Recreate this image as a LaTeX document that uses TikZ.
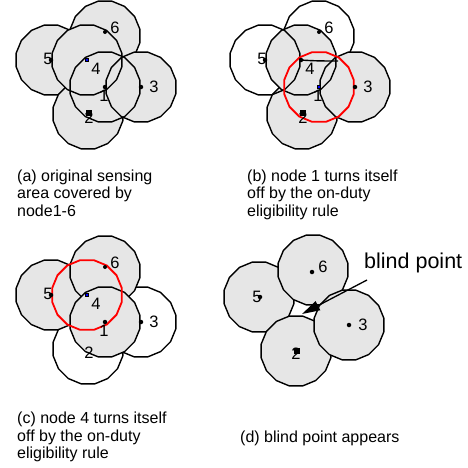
\documentclass[tikz,border=0pt]{standalone}
\usepackage{fontspec}
\setmainfont{Liberation Sans}
\usetikzlibrary{shapes.geometric,arrows.meta}
\definecolor{areagray}{HTML}{E6E6E6}
\definecolor{offred}{HTML}{FF0000}

\begin{document}
\begin{tikzpicture}[x=1pt,y=-1pt,
  area/.style={regular polygon, regular polygon sides=16, minimum size=71pt,
               inner sep=0pt, outer sep=0pt},
  covered/.style={area, fill=areagray, draw=black, line width=1.4pt},
  coverfill/.style={area, fill=areagray},
  rim/.style={area, draw=black, line width=1.4pt},
  blank/.style={area, fill=white, draw=black, line width=1.4pt},
  offrim/.style={area, draw=offred, line width=1.8pt},
  sensor/.style={circle, fill=black, inner sep=0pt, minimum size=4.5pt},
  bigsensor/.style={rectangle, fill=black, inner sep=0pt, minimum size=6pt},
  offsensor/.style={rectangle, fill=blue, draw=black, line width=0.6pt,
                    inner sep=0pt, minimum size=3.5pt},
  numlabel/.style={inner sep=0pt, font=\fontsize{16.5}{16.5}\selectfont},
  caption/.style={anchor=north west, align=left, inner sep=0pt,
                  font=\fontsize{16}{17.5}\selectfont}
]
\useasboundingbox (0,0) rectangle (468,467);

% ---------- (a) all six sensing areas ----------
\node[covered]   (a5)  at (51,60)  {};
\node[covered]   (a6)  at (105,36) {};
\node[covered]   (a2)  at (88,114) {};
\node[coverfill] (a4)  at (87,60)  {};
\node[coverfill] (a1)  at (105,87) {};
\node[coverfill] (a3)  at (141,87) {};
\node[rim]       (a4r) at (87,60)  {};
\node[rim]       (a1r) at (105,87) {};
\node[rim]       (a3r) at (141,87) {};
\node[sensor]    (s5a) at (51,60)  {};
\node[sensor, minimum size=4pt] (s6a) at (105,32) {};
\node[offsensor] (s4a) at (87,60)  {};
\node[sensor]    (s1a) at (105,87) {};
\node[sensor]    (s3a) at (141,87) {};
\node[bigsensor] (s2a) at (89,113) {};
\node[numlabel] (l5a) at (48,59)  {5};
\node[numlabel] (l4a) at (96,69)  {4};
\node[numlabel] (l1a) at (104,96) {1};
\node[numlabel] (l3a) at (154,87) {3};
\node[numlabel] (l2a) at (89,118) {2};
\node[numlabel] (l6a) at (115,28) {6};
\node[caption] (capa) at (17,169.5)
  {(a) original sensing\\area covered by\\node1-6};

% ---------- (b) node 1 switched off ----------
\begin{scope}[shift={(214,0)}]
\node[rim]       (b6)  at (105,36) {};
\node[covered]   (b2)  at (88,114) {};
\node[coverfill] (b4)  at (87,60)  {};
\node[coverfill] (b3)  at (141,87) {};
\node[rim]       (b4r) at (87,60)  {};
\node[rim]       (b3r) at (141,87) {};
\node[rim]       (b5)  at (51,60)  {};
\coordinate (b4c) at (87,60);
\coordinate (b1edge) at (124,61);
\draw[line width=1.4pt] (b4c) .. controls (100,61) and (112,61) .. (b1edge);
\node[offrim]    (b1)  at (105,87) {};
\node[sensor]    (s5b) at (51,60)  {};
\node[sensor, minimum size=4pt] (s6b) at (105,32) {};
\node[sensor]    (s4b) at (87,60)  {};
\node[offsensor] (s1b) at (105,87) {};
\node[sensor]    (s3b) at (141,87) {};
\node[bigsensor] (s2b) at (89,113) {};
\node[numlabel] (l5b) at (48,59)  {5};
\node[numlabel] (l4b) at (96,69)  {4};
\node[numlabel] (l1b) at (104,96) {1};
\node[numlabel] (l3b) at (154,87) {3};
\node[numlabel] (l2b) at (89,118) {2};
\node[numlabel] (l6b) at (115,28) {6};
\end{scope}
\node[caption] (capb) at (247,169.5)
  {(b) node 1 turns itself\\off by the on-duty\\eligibility rule};

% ---------- (c) node 4 switched off ----------
\begin{scope}[shift={(0,235)}]
\node[blank]     (c2)  at (88,114) {};
\node[blank]     (c3)  at (141,87) {};
\node[covered]   (c5)  at (51,60)  {};
\node[covered]   (c6)  at (105,36) {};
\node[covered]   (c1)  at (105,87) {};
\node[offrim]    (c4)  at (87,60)  {};
\node[sensor]    (s5c) at (51,60)  {};
\node[sensor, minimum size=4pt] (s6c) at (105,32) {};
\node[offsensor] (s4c) at (87,60)  {};
\node[sensor]    (s1c) at (105,87) {};
\node[sensor]    (s3c) at (141,87) {};
\node[numlabel] (l5c) at (48,59)  {5};
\node[numlabel] (l4c) at (96,69)  {4};
\node[numlabel] (l1c) at (104,96) {1};
\node[numlabel] (l3c) at (154,87) {3};
\node[numlabel] (l2c) at (89,118) {2};
\node[numlabel] (l6c) at (115,28) {6};
\end{scope}
\node[caption] (capc) at (17,412)
  {(c) node 4 turns itself\\off by the on-duty\\eligibility rule};

% ---------- (d) remaining areas leave a gap ----------
\node[covered] (d5) at (259,297) {};
\node[covered] (d6) at (313,270) {};
\node[covered] (d2) at (296,351) {};
\node[covered] (d3) at (349,325) {};
\node[sensor]    (s6d) at (312,272) {};
\node[sensor]    (s5d) at (260,297) {};
\node[sensor]    (s3d) at (349,325) {};
\node[bigsensor] (s2d) at (297,351) {};
\node[numlabel] (l6d) at (323,267) {6};
\node[numlabel] (l5d) at (257,297) {5};
\node[numlabel] (l3d) at (363,325) {3};
\node[numlabel] (l2d) at (296,354) {2};
\node[anchor=base west, inner sep=0pt, font=\fontsize{21.5}{21.5}\selectfont]
  (bptext) at (364,268) {blind point};
\coordinate (bptail) at (367,280);
\coordinate (bp) at (302,314);
\draw[line width=1.3pt, -{Triangle[length=18pt,width=10pt]}] (bptail) -- (bp);
\node[anchor=base west, inner sep=0pt, font=\fontsize{16}{17.5}\selectfont]
  (capd) at (240,442) {(d) blind point appears};
\end{tikzpicture}
\end{document}
